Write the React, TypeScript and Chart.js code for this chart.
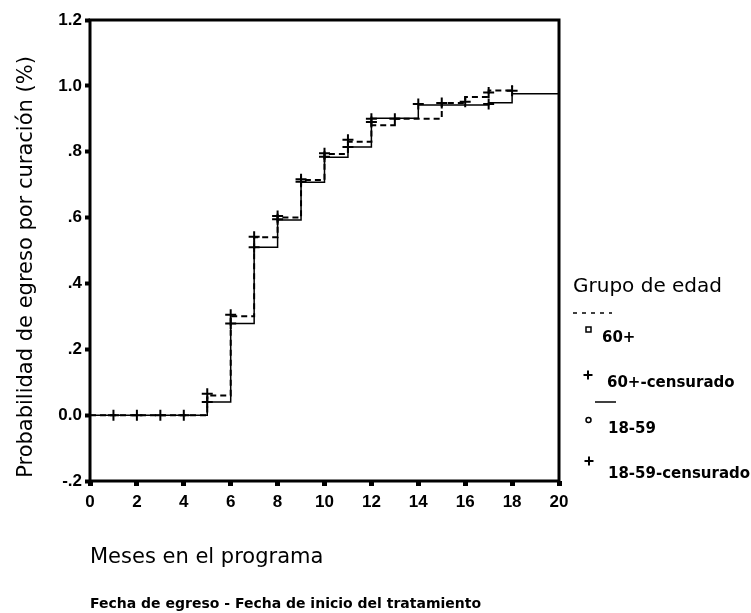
import React, { useEffect, useRef } from "react";
import { Chart, registerables } from "chart.js";

Chart.register(...registerables);

// Kaplan-Meier style cumulative curves: step times (months) and probabilities
const months1859 = [0, 5, 6, 7, 8, 9, 10, 11, 12, 14, 17, 18, 20];
const prob1859 = [0, 0.04, 0.278, 0.51, 0.593, 0.707, 0.783, 0.814, 0.902, 0.942, 0.949, 0.976, 0.976];

const months60 = [0, 5, 6, 7, 8, 9, 10, 11, 12, 13, 15, 16, 17, 18];
const prob60 = [0, 0.06, 0.3, 0.54, 0.6, 0.714, 0.793, 0.83, 0.88, 0.9, 0.948, 0.966, 0.986, 1.0];

// Censored observations
const censMonths60 = [5, 6, 7, 8, 9, 10, 11, 12, 13, 15, 17];
const censProb60 = [0.065, 0.305, 0.542, 0.605, 0.716, 0.795, 0.836, 0.9, 0.9, 0.948, 0.98];

const censMonths1859 = [1, 2, 3, 4, 5, 6, 7, 8, 9, 10, 11, 12, 14, 16, 17, 18];
const censProb1859 = [0, 0, 0, 0, 0.04, 0.278, 0.51, 0.595, 0.709, 0.785, 0.814, 0.89, 0.945, 0.952, 0.945, 0.985];

// Axis ticks
const xTickValues = [0, 2, 4, 6, 8, 10, 12, 14, 16, 18, 20];
const yTickValues = [-0.2, 0, 0.2, 0.4, 0.6, 0.8, 1.0, 1.2];
const yTickLabels = ["-.2", "0.0", ".2", ".4", ".6", ".8", "1.0", "1.2"];

const yTitle = "Probabilidad de egreso por curación (%)";
const xTitle = "Meses en el programa";
const xSubtitle = "Fecha de egreso - Fecha de inicio del tratamiento";
const legendTitle = "Grupo de edad";
const legendLabels = ["60+", "60+-censurado", "18-59", "18-59-censurado"];

const toPoints = (xs: number[], ys: number[]) => xs.map((x, i) => ({ x, y: ys[i] }));

export default function App() {
  const ref = useRef<HTMLCanvasElement>(null);

  useEffect(() => {
    const canvas = ref.current;
    if (!canvas) return;

    const framePlugin = {
      id: "frame",
      afterDatasetsDraw(chart: any) {
        const { ctx, chartArea: a } = chart;
        ctx.save();
        ctx.strokeStyle = "#000";
        ctx.lineWidth = 3;
        ctx.strokeRect(a.left, a.top, a.right - a.left, a.bottom - a.top);
        ctx.restore();
      },
    };

    const drawCross = (ctx: CanvasRenderingContext2D, x: number, y: number, r: number) => {
      ctx.beginPath();
      ctx.moveTo(x - r, y);
      ctx.lineTo(x + r, y);
      ctx.moveTo(x, y - r);
      ctx.lineTo(x, y + r);
      ctx.stroke();
    };

    const textPlugin = {
      id: "texts",
      afterDraw(chart: any) {
        const ctx: CanvasRenderingContext2D = chart.ctx;
        ctx.save();
        ctx.fillStyle = "#000";
        ctx.strokeStyle = "#000";

        // y axis title
        ctx.save();
        ctx.translate(32, 267);
        ctx.rotate(-Math.PI / 2);
        ctx.font = "21px 'DejaVu Sans'";
        ctx.textAlign = "center";
        ctx.textBaseline = "alphabetic";
        ctx.fillText(yTitle, 0, 0);
        ctx.restore();

        // x axis title and note
        ctx.textAlign = "left";
        ctx.textBaseline = "alphabetic";
        ctx.font = "21px 'DejaVu Sans'";
        ctx.fillText(xTitle, 90, 563);
        ctx.font = "bold 14px 'DejaVu Sans'";
        ctx.fillText(xSubtitle, 90, 608);

        // legend
        ctx.font = "20px 'DejaVu Sans'";
        ctx.fillText(legendTitle, 573, 292);

        ctx.lineWidth = 1.5;
        ctx.setLineDash([4, 5]);
        ctx.beginPath();
        ctx.moveTo(573, 313);
        ctx.lineTo(612, 313);
        ctx.stroke();
        ctx.setLineDash([]);

        ctx.lineWidth = 1.5;
        ctx.strokeRect(586, 327, 5, 5);
        ctx.font = "bold 15px 'DejaVu Sans'";
        ctx.fillText(legendLabels[0], 602, 342);

        ctx.lineWidth = 2;
        drawCross(ctx, 588, 375, 4.5);
        ctx.fillText(legendLabels[1], 607, 387);

        ctx.lineWidth = 1.5;
        ctx.beginPath();
        ctx.moveTo(595, 402);
        ctx.lineTo(616, 402);
        ctx.stroke();

        ctx.beginPath();
        ctx.arc(588.5, 420, 2.5, 0, Math.PI * 2);
        ctx.stroke();
        ctx.fillText(legendLabels[2], 608, 433);

        ctx.lineWidth = 2;
        drawCross(ctx, 589, 461, 4.5);
        ctx.fillText(legendLabels[3], 608, 478);

        ctx.restore();
      },
    };

    const tickFont = { family: "'Liberation Sans', Arial, sans-serif", size: 17, weight: "bold" as const };

    const chart = new Chart(canvas, {
      type: "line",
      data: {
        datasets: [
          {
            label: legendLabels[0],
            data: toPoints(months60, prob60),
            stepped: "before",
            borderColor: "#000",
            borderWidth: 2,
            borderDash: [6, 4],
            pointRadius: 0,
            fill: false,
          },
          {
            label: legendLabels[2],
            data: toPoints(months1859, prob1859),
            stepped: "before",
            borderColor: "#000",
            borderWidth: 1.5,
            pointRadius: 0,
            fill: false,
          },
          {
            label: legendLabels[1],
            data: toPoints(censMonths60, censProb60),
            showLine: false,
            pointStyle: "cross",
            pointRadius: 5.5,
            pointBorderWidth: 2,
            pointBorderColor: "#000",
            borderColor: "#000",
          },
          {
            label: legendLabels[3],
            data: toPoints(censMonths1859, censProb1859),
            showLine: false,
            pointStyle: "cross",
            pointRadius: 5.5,
            pointBorderWidth: 2,
            pointBorderColor: "#000",
            borderColor: "#000",
          },
        ],
      },
      options: {
        responsive: false,
        animation: false,
        devicePixelRatio: 1,
        layout: { padding: { top: 20, right: 192, left: 0, bottom: 0 } },
        plugins: {
          legend: { display: false },
          tooltip: { enabled: false },
        },
        scales: {
          x: {
            type: "linear",
            min: 0,
            max: 20,
            afterBuildTicks: (scale: any) => {
              scale.ticks = xTickValues.map((v) => ({ value: v }));
            },
            afterFit: (scale: any) => {
              scale.height = 132;
            },
            ticks: {
              color: "#000",
              font: tickFont,
              padding: 6,
              maxRotation: 0,
              callback: (v: any) => String(v),
            },
            grid: {
              drawOnChartArea: false,
              drawTicks: true,
              tickLength: 5,
              tickWidth: 5,
              tickColor: "#000",
            },
            border: { display: false },
          },
          y: {
            type: "linear",
            min: -0.2,
            max: 1.2,
            afterBuildTicks: (scale: any) => {
              scale.ticks = yTickValues.map((v) => ({ value: v }));
            },
            afterFit: (scale: any) => {
              scale.width = 90;
            },
            ticks: {
              color: "#000",
              font: tickFont,
              padding: 3,
              callback: (_v: any, i: number) => yTickLabels[i],
            },
            grid: {
              drawOnChartArea: false,
              drawTicks: true,
              tickLength: 5,
              tickWidth: 4,
              tickColor: "#000",
            },
            border: { display: false },
          },
        },
      },
      plugins: [framePlugin, textPlugin],
    } as any);

    return () => chart.destroy();
  }, []);

  return (
    <div style={{ position: "fixed", left: 0, top: 0, width: 751, height: 613, background: "#fff" }}>
      <canvas ref={ref} width={751} height={613} style={{ display: "block" }} />
    </div>
  );
}
